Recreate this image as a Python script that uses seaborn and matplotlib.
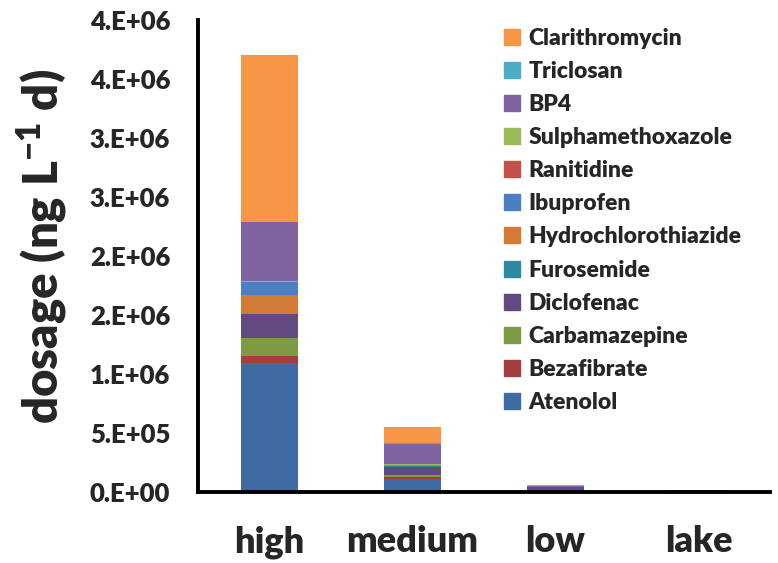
import numpy as np
import matplotlib
matplotlib.use("Agg")
import matplotlib.pyplot as plt
import matplotlib.patches as mpatches
import seaborn as sns

# stacking order, bottom -> top
drugs = ["Atenolol", "Bezafibrate", "Carbamazepine", "Diclofenac", "Furosemide",
         "Hydrochlorothiazide", "Ibuprofen", "Ranitidine", "Sulphamethoxazole",
         "BP4", "Triclosan", "Clarithromycin"]
colors = ["#3F6AA2", "#A33F3C", "#7E9A45", "#614A82", "#2E8AA0",
          "#D17B36", "#4A7FC4", "#C4504D", "#9BBB59",
          "#8064A2", "#4BACC6", "#F79646"]
sites = ["high", "medium", "low", "lake"]

high   = [1.090e6, 0.065e6, 0.153e6, 0.200e6, 0.004e6, 0.157e6, 0.108e6,
          0.004e6, 0.005e6, 0.500e6, 0.003e6, 1.414e6]
medium = [0.113e6, 0.014e6, 0.014e6, 0.073e6, 0.005e6, 0.006e6, 0.006e6,
          0.002e6, 0.002e6, 0.175e6, 0.003e6, 0.140e6]
low    = [0.006e6, 0.001e6, 0.002e6, 0.030e6, 0.001e6, 0.001e6, 0.002e6,
          0.001e6, 0.001e6, 0.008e6, 0.001e6, 0.008e6]
lake   = [0.004e6, 0.0005e6, 0.001e6, 0.002e6, 0.0005e6, 0.0005e6, 0.001e6,
          0.0005e6, 0.0005e6, 0.002e6, 0.0005e6, 0.006e6]

yticks = [0, 5e5, 1e6, 1.5e6, 2e6, 2.5e6, 3e6, 3.5e6, 4e6]
ytick_labels = ["0.E+00", "5.E+05", "1.E+06", "2.E+06", "2.E+06",
                "3.E+06", "3.E+06", "4.E+06", "4.E+06"]

sns.set_style("white")
plt.rcParams["font.family"] = ["Lato", "DejaVu Sans"]
plt.rcParams["font.weight"] = "heavy"
plt.rcParams["mathtext.fontset"] = "custom"
plt.rcParams["mathtext.rm"] = "Lato:heavy"
plt.rcParams["mathtext.bf"] = "Lato:heavy"
W = "heavy"

values = np.array([high, medium, low, lake])      # sites x drugs
cum = np.cumsum(values, axis=1)

fig = plt.figure(figsize=(7.78, 5.63), dpi=100)
ax = fig.add_axes([0.2545, 0.1261, 0.7352, 0.8384])

# draw cumulative totals from the top down so each layer shows its own slice
for i in range(len(drugs) - 1, -1, -1):
    sns.barplot(x=sites, y=cum[:, i], order=sites, color=colors[i],
                saturation=1, width=0.4, ax=ax, linewidth=0)

ax.set_ylim(0, 4e6)
ax.set_xlim(-0.5, 3.5)
ax.set_yticks(yticks)
ax.set_yticklabels(ytick_labels, fontsize=18.5, fontweight=W)
ax.set_xticks(range(len(sites)))
ax.set_xticklabels(sites, fontsize=26, fontweight=W)
ax.set_xticks(np.arange(-0.5, 4, 1), minor=True)
ax.tick_params(axis="x", which="major", length=0, pad=24)
ax.tick_params(axis="x", which="minor", length=7, width=2.5, direction="out")
ax.tick_params(axis="y", length=7, width=2.5, direction="out", pad=13)
ax.set_xlabel("")
ax.set_ylabel(r"dosage (ng L$^{\mathbf{-1}}$ d)", fontsize=34, fontweight=W)
ax.yaxis.set_label_coords(-0.225, 0.52)

for side in ["top", "right"]:
    ax.spines[side].set_visible(False)
for side in ["left", "bottom"]:
    ax.spines[side].set_linewidth(2.8)
    ax.spines[side].set_color("black")

handles = [mpatches.Patch(color=colors[i], label=drugs[i])
           for i in range(len(drugs) - 1, -1, -1)]
fig.legend(handles=handles, loc="upper left", bbox_to_anchor=(0.648, 0.951),
           frameon=False, prop={"weight": W, "size": 16.5},
           handlelength=0.7, handleheight=0.7, handletextpad=0.35,
           labelspacing=0.53, borderpad=0, borderaxespad=0)

fig.savefig("out.png", dpi=100, facecolor="white")
